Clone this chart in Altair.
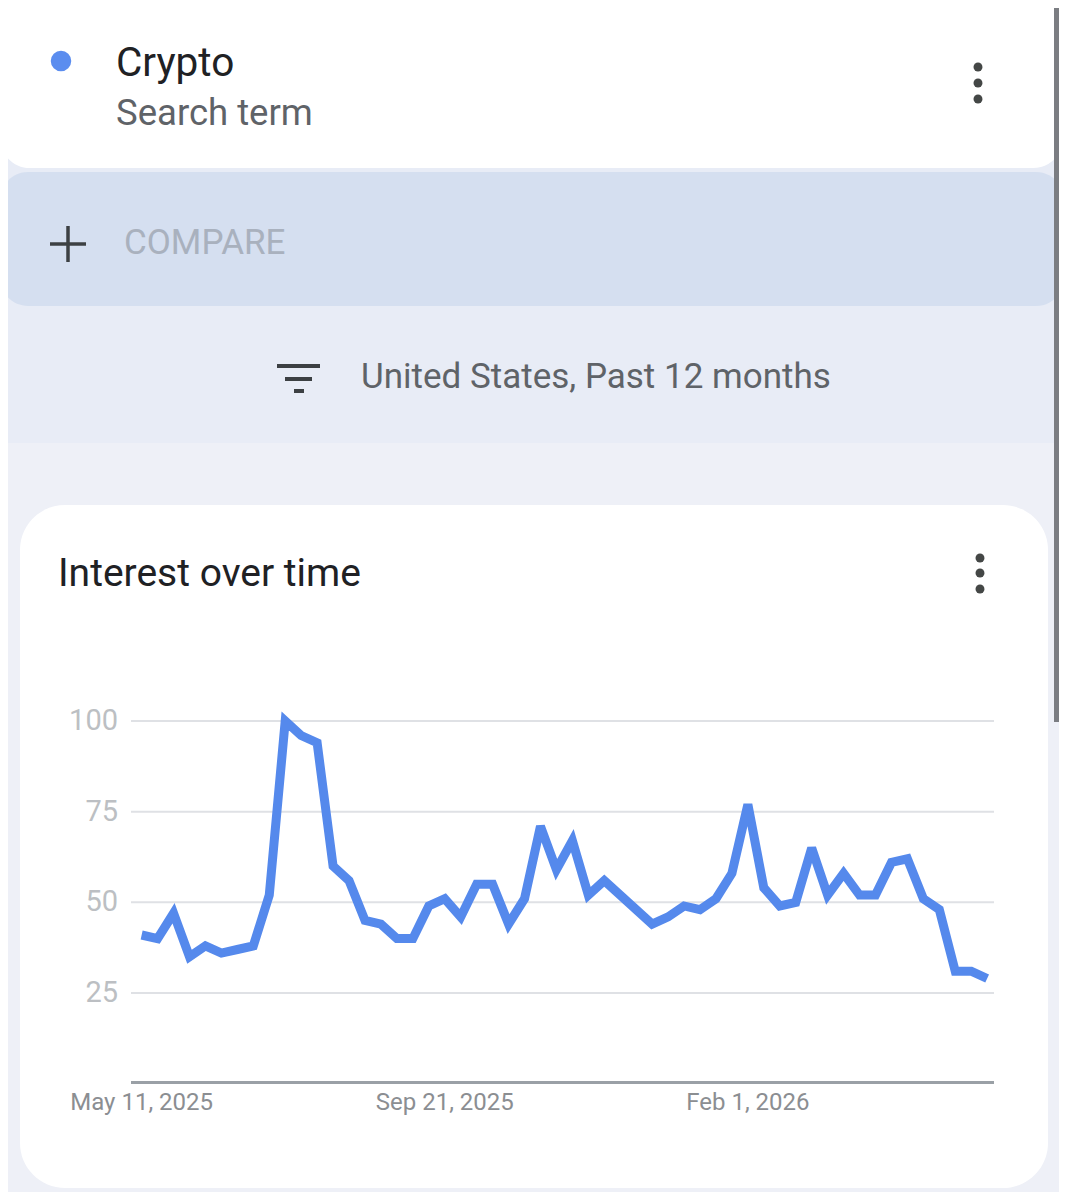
import datetime as dt
import altair as alt
import pandas as pd

# ---------------- data ----------------
start = dt.date(2025, 5, 11)
values = [41, 40, 47, 35, 38, 36, 37, 38, 52, 100,
          96, 94, 60, 56, 45, 44, 40, 40, 49, 51,
          46, 55, 55, 44, 51, 71, 59, 67, 52, 56,
          52, 48, 44, 46, 49, 48, 51, 58, 77, 54,
          49, 50, 65, 52, 58, 52, 52, 61, 62, 51,
          48, 31, 31, 29]
weeks = [(start + dt.timedelta(days=7 * i)).isoformat() for i in range(len(values))]

y_ticks = [25, 50, 75, 100]
y_tick_labels = ["25", "50", "75", "100"]
x_ticks = ["2025-05-11", "2025-09-21", "2026-02-01"]
x_tick_labels = ["May 11, 2025", "Sep 21, 2025", "Feb 1, 2026"]

term = "Crypto"
term_kind = "Search term"
compare_label = "COMPARE"
filter_label = "United States, Past 12 months"
card_title = "Interest over time"

series = pd.DataFrame({"week": weeks, "interest": values})
ygrid = pd.DataFrame({"v": y_ticks, "lab": y_tick_labels})
xlab = pd.DataFrame({"d": x_ticks, "lab": x_tick_labels})

# ---------------- layout helpers ----------------
M = 8  # page margin
def P(v):
    return v - M

FONT = "Roboto"
one = alt.Data(values=[{"k": 0}])

xscale = alt.Scale(type="utc",
                   domain=[alt.DateTime(year=2025, month=5, date=6, hours=8, utc=True),
                           alt.DateTime(year=2026, month=5, date=20, utc=True)],
                   range=[P(131), P(994)])
yscale = alt.Scale(domain=[0, 100], range=[P(1083.7), P(721)], nice=False, zero=True)


def rect(x1, x2, y1, y2, fill, r=0):
    return alt.Chart(one).mark_rect(color=fill, cornerRadius=r).encode(
        x=alt.value(P(x1)), x2=alt.value(P(x2)), y=alt.value(P(y1)), y2=alt.value(P(y2)))


def hrule(x1, x2, y, color, w):
    return alt.Chart(one).mark_rule(color=color, strokeWidth=w).encode(
        x=alt.value(P(x1)), x2=alt.value(P(x2)), y=alt.value(P(y)))


def vrule(x, y1, y2, color, w):
    return alt.Chart(one).mark_rule(color=color, strokeWidth=w).encode(
        x=alt.value(P(x)), y=alt.value(P(y1)), y2=alt.value(P(y2)))


def label(txt, x, y, size, color, align="left"):
    return alt.Chart(one).mark_text(text=txt, font=FONT, fontSize=size, color=color,
                                    align=align, baseline="middle").encode(
        x=alt.value(P(x)), y=alt.value(P(y)))


def dot(x, y, size, color):
    return alt.Chart(one).mark_point(filled=True, size=size, color=color, opacity=1).encode(
        x=alt.value(P(x)), y=alt.value(P(y)))


layers = []
# page backgrounds
layers.append(rect(-20, 1080, -20, 443, "#e8ecf6"))
# top card
layers.append(rect(0, 1063, -60, 168, "#ffffff", 30))
# compare band
layers.append(rect(0, 1064, 172, 306, "#d5dff0", 28))
# scrollbar
layers.append(rect(1054, 1059, -20, 722, "#7b7d82"))
# chart card
layers.append(rect(20, 1048, 505, 1188, "#ffffff", 45))

# header texts
layers.append(dot(61, 61, 420, "#5b8def"))
layers.append(label(term, 116, 64, 40.5, "#202124"))
layers.append(label(term_kind, 116, 114, 36.5, "#5f6368"))
for yy in (67, 83, 99):
    layers.append(dot(978, yy, 80, "#444746"))
layers.append(hrule(50, 86, 244, "#3c4043", 3.5))
layers.append(vrule(68, 226, 262, "#3c4043", 3.5))
layers.append(label(compare_label, 124, 243, 35, "#a9b1be"))
layers.append(hrule(277, 320, 366, "#3c4043", 4))
layers.append(hrule(285, 312, 379, "#3c4043", 4))
layers.append(hrule(294, 304, 391, "#3c4043", 4))
layers.append(label(filter_label, 361, 377, 35, "#5f6368"))
layers.append(label(card_title, 58, 574, 39, "#202124"))
for yy in (558, 573, 589):
    layers.append(dot(980, yy, 80, "#444746"))

# chart: grid, baseline, labels, line
grid = alt.Chart(ygrid).mark_rule(color="#dfe1e5", strokeWidth=2).encode(
    y=alt.Y("v:Q", scale=yscale, axis=None),
    x=alt.value(P(131)), x2=alt.value(P(994)))
base = alt.Chart(one).mark_rule(color="#9aa0a6", strokeWidth=3).encode(
    y=alt.value(P(1082.5)), x=alt.value(P(131)), x2=alt.value(P(994)))
ylabels = alt.Chart(ygrid).mark_text(font=FONT, fontSize=29, color="#bcbfc3",
                                     align="right", baseline="middle").encode(
    y=alt.Y("v:Q", scale=yscale, axis=None), x=alt.value(P(118)), text="lab:N")
xlabels = alt.Chart(xlab).mark_text(font=FONT, fontSize=24, color="#8b8e92",
                                    align="center", baseline="middle").encode(
    x=alt.X("d:T", scale=xscale, axis=None), y=alt.value(P(1103)), text="lab:N")
line = alt.Chart(series).mark_line(color="#5589ec", strokeWidth=9, strokeJoin="miter",
                                   strokeMiterLimit=3).encode(
    x=alt.X("week:T", scale=xscale, axis=None),
    y=alt.Y("interest:Q", scale=yscale, axis=None))

layers += [grid, base, ylabels, xlabels, line]

chart = alt.layer(*layers).properties(
    width=1051, height=1184,
    autosize=alt.AutoSizeParams(type="none"),
    padding=0,
    background="#eef0f7",
).configure_view(stroke=None)

chart.save("out.html", embed_options={"renderer": "svg", "actions": False})
